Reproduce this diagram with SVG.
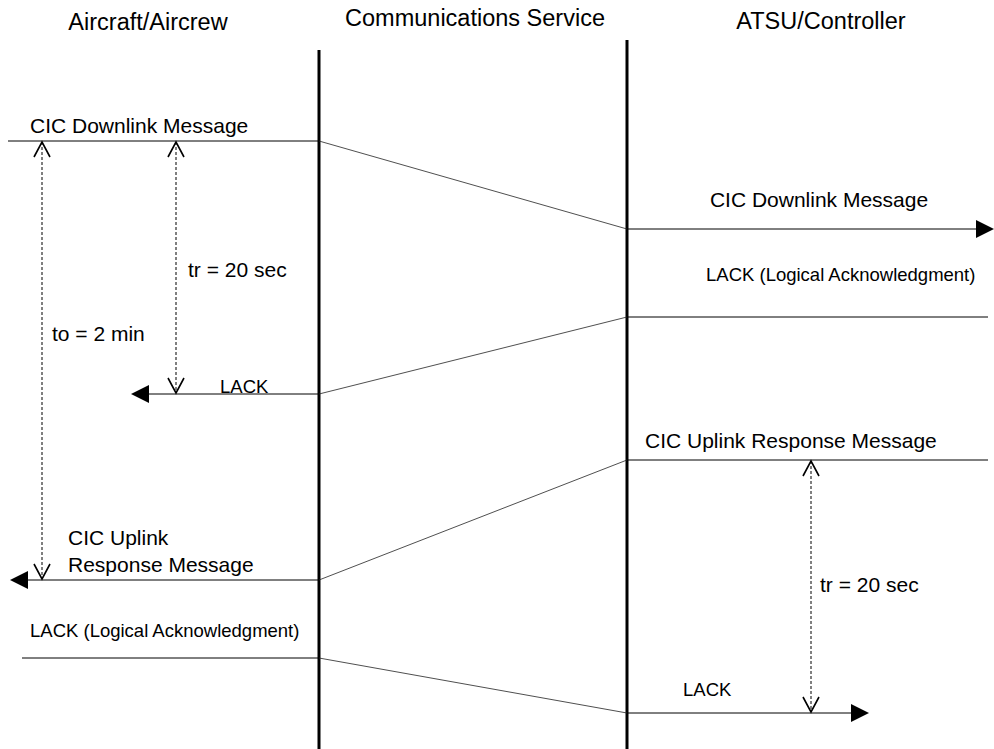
<svg xmlns="http://www.w3.org/2000/svg" width="994" height="749" viewBox="0 0 994 749">
<style>
text{font-family:"Liberation Sans",Arial,sans-serif;fill:#000}
.h{font-size:23.5px}
.m{font-size:21px}
.s{font-size:18.5px}
.life{stroke:#000;stroke-width:3;fill:none}
.msg{stroke:#000;stroke-width:1;fill:none}
.diag{stroke:#222;stroke-width:0.8;fill:none}
.dot{stroke:#000;stroke-width:1;stroke-dasharray:3,2;fill:none}
.chev{stroke:#000;stroke-width:1.6;fill:none}
</style>
<rect width="994" height="749" fill="#fff"/>
<g id="lifelines">
<line class="life" x1="319" y1="50" x2="319" y2="749"/>
<line class="life" x1="627" y1="40" x2="627" y2="749"/>
</g>
<g id="headers">
<text class="h" x="148" y="30" text-anchor="middle">Aircraft/Aircrew</text>
<text class="h" x="475" y="26" text-anchor="middle">Communications Service</text>
<text class="h" x="821" y="29" text-anchor="middle">ATSU/Controller</text>
</g>
<g id="connectors">
<line class="msg" x1="8" y1="141" x2="319" y2="141"/>
<line class="diag" x1="319" y1="141" x2="627" y2="229"/>
<line class="msg" x1="627" y1="229" x2="978" y2="229"/>
<polygon points="994,229 976,220 976,238" fill="#000"/>
<line class="msg" x1="627" y1="317" x2="988" y2="317"/>
<line class="diag" x1="627" y1="317" x2="319" y2="394"/>
<line class="msg" x1="319" y1="394" x2="147" y2="394"/>
<polygon points="131,394 149,385 149,403" fill="#000"/>
<line class="msg" x1="627" y1="460" x2="988" y2="460"/>
<line class="diag" x1="627" y1="460" x2="319" y2="580"/>
<line class="msg" x1="319" y1="580" x2="26" y2="580"/>
<polygon points="10,580 28,571 28,589" fill="#000"/>
<line class="msg" x1="22" y1="658" x2="319" y2="658"/>
<line class="diag" x1="319" y1="658" x2="627" y2="713"/>
<line class="msg" x1="627" y1="713" x2="853" y2="713"/>
<polygon points="869,713 851,704 851,722" fill="#000"/>
<line class="dot" x1="176" y1="142" x2="176" y2="393"/>
<polyline class="chev" points="168,157 176,142 184,157"/>
<polyline class="chev" points="168,378 176,393 184,378"/>
<line class="dot" x1="42" y1="142" x2="42" y2="579"/>
<polyline class="chev" points="34,157 42,142 50,157"/>
<polyline class="chev" points="34,564 42,579 50,564"/>
<line class="dot" x1="811" y1="461" x2="811" y2="712"/>
<polyline class="chev" points="803,476 811,461 819,476"/>
<polyline class="chev" points="803,697 811,712 819,697"/>
</g>
<g id="labels">
<text class="m" x="30" y="133">CIC Downlink Message</text>
<text class="m" x="819" y="207" text-anchor="middle">CIC Downlink Message</text>
<text class="s" x="706" y="281">LACK (Logical Acknowledgment)</text>
<text class="s" x="220" y="393">LACK</text>
<text class="m" x="188" y="277">tr = 20 sec</text>
<text class="m" x="52" y="341">to = 2 min</text>
<text class="m" x="645" y="448">CIC Uplink Response Message</text>
<text class="m" x="68" y="545">CIC Uplink</text>
<text class="m" x="68" y="572">Response Message</text>
<text class="s" x="30" y="637">LACK (Logical Acknowledgment)</text>
<text class="s" x="683" y="696">LACK</text>
<text class="m" x="820" y="592">tr = 20 sec</text>
</g>
</svg>
